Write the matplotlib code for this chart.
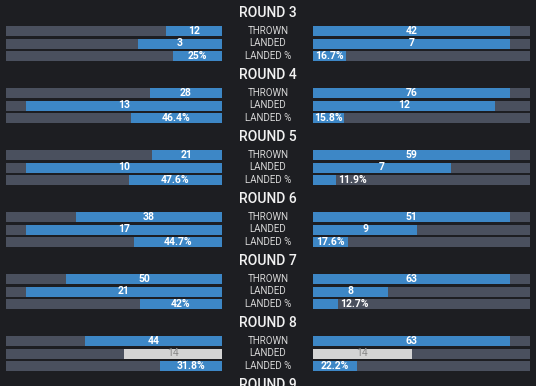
import matplotlib.pyplot as plt

# данные по раундам (левый боец / правый боец)
rounds = ["ROUND 3", "ROUND 4", "ROUND 5", "ROUND 6", "ROUND 7", "ROUND 8"]
thrown_left = [12, 28, 21, 38, 50, 44]
thrown_right = [42, 76, 59, 51, 63, 63]
landed_left = [3, 13, 10, 17, 21, 14]
landed_right = [7, 12, 7, 9, 8, 14]
pct_left = [25, 46.4, 47.6, 44.7, 42, 31.8]
pct_right = [16.7, 15.8, 11.9, 17.6, 12.7, 22.2]
row_labels = ["THROWN", "LANDED", "LANDED %"]
next_round = "ROUND 9"

BG = "#1d1e22"
TRACK = "#4a505e"
BLUE = "#3d87c6"
TIE = "#d4d4d4"

fig = plt.figure(figsize=(5.36, 3.86), dpi=100, facecolor=BG)
ax = fig.add_axes([0, 0, 1, 1])
ax.set_facecolor(BG)
ax.set_xlim(0, 536)
ax.set_ylim(386, 0)
ax.axis("off")

L0, L1 = 6, 222   # левая дорожка
R0, R1 = 313, 530  # правая дорожка
H = 10
font = "Roboto"


def fmt(v, pct):
    if pct:
        return (f"{v:g}") + "%"
    return str(v)


def draw_row(y, a, b, pct):
    ax.barh(y, L1 - L0, left=L0, height=H, color=TRACK)
    ax.barh(y, R1 - R0, left=R0, height=H, color=TRACK)
    if pct:
        sa, sb = a / 100 / 1.1, b / 100 / 1.1
    elif a == b:
        sa = sb = a / (a + b) / 1.1
    else:
        m = max(a, b)
        sa, sb = a / m / 1.1, b / m / 1.1
    wa, wb = sa * (L1 - L0), sb * (R1 - R0)
    tie = (a == b)
    col = TIE if tie else BLUE
    tcol = "#8a8a8a" if tie else "white"
    fw = "normal" if tie else "bold"
    ax.barh(y, wa, left=L1 - wa, height=H, color=col)
    ax.barh(y, wb, left=R0, height=H, color=col)
    # подписи
    if wa < 28:
        ax.text(L1 - wa - 2, y, fmt(a, pct), ha="right", va="center", color="white",
                fontsize=7.5, fontweight=fw, family=font)
    else:
        ax.text(L1 - wa / 2, y, fmt(a, pct), ha="center", va="center", color=tcol,
                fontsize=7.5, fontweight=fw, family=font)
    if wb < 28:
        ax.text(R0 + wb + 2, y, fmt(b, pct), ha="left", va="center", color="white",
                fontsize=7.5, fontweight=fw, family=font)
    else:
        ax.text(R0 + wb / 2, y, fmt(b, pct), ha="center", va="center", color=tcol,
                fontsize=7.5, fontweight=fw, family=font)


for i, name in enumerate(rounds):
    top = 13 + 62 * i
    ax.text(268, top, name, ha="center", va="center", color="#f2f2f2",
            fontsize=10, fontweight="medium", family=font)
    ys = [top + 17.5, top + 30.5, top + 43]
    for y, lab in zip(ys, row_labels):
        ax.text(268, y, lab, ha="center", va="center", color="#d6d6d6",
                fontsize=7, family=font)
    draw_row(ys[0], thrown_left[i], thrown_right[i], False)
    draw_row(ys[1], landed_left[i], landed_right[i], False)
    draw_row(ys[2], pct_left[i], pct_right[i], True)

ax.text(268, 13 + 62 * len(rounds), next_round, ha="center", va="center",
        color="#f2f2f2", fontsize=10, fontweight="medium", family=font)

fig.savefig("out.png", dpi=100, facecolor=BG)
